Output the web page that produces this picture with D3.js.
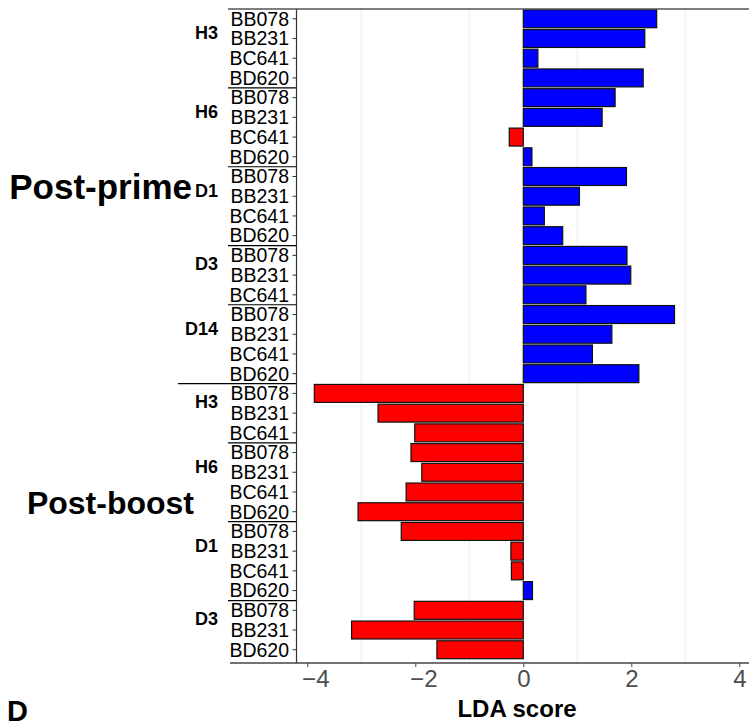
<!DOCTYPE html>
<html>
<head>
<meta charset="utf-8">
<script src="https://cdn.jsdelivr.net/npm/d3@7"></script>
<style>
  body { margin: 0; background: #fff; }
  svg { display: block; font-family: "Liberation Sans", Arial, sans-serif; }
</style>
</head>
<body>
<svg id="chart" width="749" height="726"></svg>
<script>
// one entry per bar, top to bottom
const rowPhase = [
  "Post-prime","Post-prime","Post-prime","Post-prime",
  "Post-prime","Post-prime","Post-prime","Post-prime",
  "Post-prime","Post-prime","Post-prime","Post-prime",
  "Post-prime","Post-prime","Post-prime",
  "Post-prime","Post-prime","Post-prime","Post-prime",
  "Post-boost","Post-boost","Post-boost",
  "Post-boost","Post-boost","Post-boost","Post-boost",
  "Post-boost","Post-boost","Post-boost","Post-boost",
  "Post-boost","Post-boost","Post-boost"
];
const rowTime = [
  "H3","H3","H3","H3",
  "H6","H6","H6","H6",
  "D1","D1","D1","D1",
  "D3","D3","D3",
  "D14","D14","D14","D14",
  "H3","H3","H3",
  "H6","H6","H6","H6",
  "D1","D1","D1","D1",
  "D3","D3","D3"
];
const rowStrain = [
  "BB078","BB231","BC641","BD620",
  "BB078","BB231","BC641","BD620",
  "BB078","BB231","BC641","BD620",
  "BB078","BB231","BC641",
  "BB078","BB231","BC641","BD620",
  "BB078","BB231","BC641",
  "BB078","BB231","BC641","BD620",
  "BB078","BB231","BC641","BD620",
  "BB078","BB231","BD620"
];
const ldaScore = [
  2.47, 2.25, 0.27, 2.22,
  1.70, 1.46, -0.26, 0.16,
  1.91, 1.04, 0.39, 0.73,
  1.92, 1.99, 1.16,
  2.80, 1.64, 1.28, 2.14,
  -3.87, -2.69, -2.01,
  -2.08, -1.88, -2.17, -3.06,
  -2.26, -0.23, -0.22, 0.17,
  -2.02, -3.18, -1.60
];
const xTicks = [-4, -2, 0, 2, 4];
const xGrid = [-3, -1, 1, 3];

const svg = d3.select("#chart");
const rows = d3.range(ldaScore.length);

const x = d3.scaleLinear().domain([-4, 4]).range([307.3, 739.3]);
const y = d3.scaleBand().domain(rows).range([9, 659.5]).paddingInner(0.09).paddingOuter(0.04);
const step = y.step();
const top0 = 9, bottom0 = 663, axisLeft = 296.5;

// grid
svg.append("g").selectAll("line").data(xGrid).join("line")
  .attr("x1", d => x(d)).attr("x2", d => x(d))
  .attr("y1", top0).attr("y2", bottom0)
  .attr("stroke", "#ebebeb").attr("stroke-width", 1);

// bars
svg.append("g").selectAll("rect").data(rows).join("rect")
  .attr("x", i => x(Math.min(0, ldaScore[i])))
  .attr("width", i => Math.abs(x(ldaScore[i]) - x(0)))
  .attr("y", i => y(i))
  .attr("height", y.bandwidth())
  .attr("fill", i => ldaScore[i] >= 0 ? "#0000ff" : "#ff0000")
  .attr("stroke", "#111").attr("stroke-width", 1.2);

// y axis line + ticks + labels
svg.append("line").attr("x1", axisLeft).attr("x2", axisLeft)
  .attr("y1", top0).attr("y2", bottom0).attr("stroke", "#333").attr("stroke-width", 1.2);
svg.append("g").selectAll("line").data(rows).join("line")
  .attr("x1", axisLeft - 4).attr("x2", axisLeft)
  .attr("y1", i => y(i) + y.bandwidth() / 2).attr("y2", i => y(i) + y.bandwidth() / 2)
  .attr("stroke", "#333");
svg.append("g").selectAll("text").data(rows).join("text")
  .attr("x", 289).attr("y", i => y(i) + y.bandwidth() / 2)
  .attr("dy", "0.35em").attr("text-anchor", "end")
  .attr("font-size", 19.5).attr("fill", "#000")
  .text(i => rowStrain[i]);

// top line
svg.append("line").attr("x1", 228).attr("x2", 749)
  .attr("y1", top0).attr("y2", top0).attr("stroke", "#555").attr("stroke-width", 1.5);

// group separators and time labels
const groups = [];
rows.forEach(i => {
  const key = rowPhase[i] + "|" + rowTime[i];
  const last = groups[groups.length - 1];
  if (last && last.key === key) last.end = i;
  else groups.push({ key, phase: rowPhase[i], time: rowTime[i], start: i, end: i });
});
const rowTop = i => top0 + i * step;

groups.forEach((g, gi) => {
  const t = rowTop(g.start), b = rowTop(g.end + 1);
  svg.append("text")
    .attr("x", 218).attr("y", t + 0.3 * (b - t))
    .attr("dy", "0.35em").attr("text-anchor", "end")
    .attr("font-size", 18).attr("font-weight", "bold")
    .text(g.time);
  if (gi > 0) {
    const phaseChange = groups[gi - 1].phase !== g.phase;
    svg.append("line")
      .attr("x1", phaseChange ? 178 : 228).attr("x2", axisLeft)
      .attr("y1", t).attr("y2", t)
      .attr("stroke", "#000").attr("stroke-width", 1.2);
  }
});

// phase labels
const phases = Array.from(new Set(rowPhase));
const phaseFrac = [0.475, 0.43];
const phaseSize = [35, 32];
phases.forEach((p, pi) => {
  const idx = rows.filter(i => rowPhase[i] === p);
  const t = rowTop(idx[0]), b = rowTop(idx[idx.length - 1] + 1);
  svg.append("text")
    .attr("x", pi === 0 ? 192 : 194).attr("y", t + phaseFrac[pi] * (b - t))
    .attr("dy", "0.35em").attr("text-anchor", "end")
    .attr("font-size", phaseSize[pi]).attr("font-weight", "bold")
    .text(p);
});

// x axis
svg.append("line").attr("x1", 230).attr("x2", 749)
  .attr("y1", bottom0).attr("y2", bottom0).attr("stroke", "#444").attr("stroke-width", 1.5);
const xAxis = svg.append("g").attr("transform", `translate(0,${bottom0})`)
  .call(d3.axisBottom(x).tickValues(xTicks).tickSize(4).tickPadding(3));
xAxis.select(".domain").remove();
xAxis.selectAll("line").attr("stroke", "#444");
xAxis.selectAll("text").attr("font-size", 24).attr("fill", "#4d4d4d")
  .attr("font-family", "Liberation Sans, Arial, sans-serif")
  .attr("dx", d => d < 0 ? 8 : 0);

svg.append("text").attr("x", 517).attr("y", 717).attr("text-anchor", "middle")
  .attr("font-size", 24).attr("font-weight", "bold").text("LDA score");

svg.append("text").attr("x", 7).attr("y", 721)
  .attr("font-size", 29).attr("font-weight", "bold").text("D");
</script>
</body>
</html>
